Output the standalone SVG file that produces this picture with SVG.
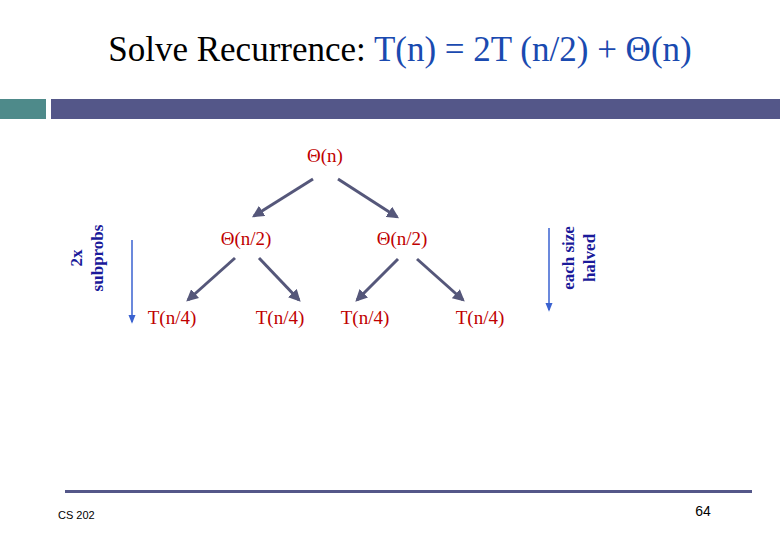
<svg xmlns="http://www.w3.org/2000/svg" width="780" height="540" viewBox="0 0 780 540">
<style>
.t{font-family:"Liberation Serif",serif;fill:#c00000;font-size:19px;text-anchor:middle}
.b{font-family:"Liberation Serif",serif;fill:#1a1a9a;font-size:17px;font-weight:bold;text-anchor:middle}
.e{stroke:#55577a;stroke-width:3;fill:none;marker-end:url(#ah)}
.v{stroke:#3a62d0;stroke-width:1.5;fill:none;marker-end:url(#av)}
</style>
<defs>
<marker id="ah" viewBox="0 0 10 10" refX="8" refY="5" markerWidth="4" markerHeight="4" orient="auto"><path d="M0,0L10,5L0,10z" fill="#55577a"/></marker>
<marker id="av" viewBox="0 0 10 10" refX="8" refY="5" markerWidth="6" markerHeight="6" orient="auto"><path d="M0,1L10,5L0,9z" fill="#3a62d0"/></marker>
</defs>
<rect width="780" height="540" fill="#fff"/>
<text x="400" y="61" font-family="Liberation Serif,serif" font-size="35" text-anchor="middle" fill="#000">Solve Recurrence: <tspan fill="#1a4ab0">T(n) = 2T (n/2) + Θ(n)</tspan></text>
<rect x="0" y="99" width="46" height="20" fill="#4e8a8a"/>
<rect x="51" y="99" width="729" height="20" fill="#545789"/>
<g id="root"><text class="t" x="325" y="162">Θ(n)</text></g>
<g id="m1"><text class="t" x="246" y="245">Θ(n/2)</text></g>
<g id="m2"><text class="t" x="402" y="245">Θ(n/2)</text></g>
<g id="l1"><text class="t" x="172" y="324">T(n/4)</text></g>
<g id="l2"><text class="t" x="280" y="324">T(n/4)</text></g>
<g id="l3"><text class="t" x="365" y="324">T(n/4)</text></g>
<g id="l4"><text class="t" x="480" y="324">T(n/4)</text></g>
<g id="connectors">
<line class="e" x1="313" y1="179" x2="254" y2="216"/>
<line class="e" x1="338" y1="179" x2="397" y2="217"/>
<line class="e" x1="235" y1="258" x2="188" y2="300"/>
<line class="e" x1="259" y1="258" x2="299" y2="300"/>
<line class="e" x1="398" y1="259" x2="357" y2="300"/>
<line class="e" x1="417" y1="259" x2="463" y2="300"/>
<line class="v" x1="132" y1="240" x2="132" y2="322"/>
<line class="v" x1="549" y1="228" x2="549" y2="310"/>
</g>
<g id="label-left" transform="translate(88,258) rotate(-90)"><text class="b" x="0" y="-6">2x</text><text class="b" x="0" y="15">subprobs</text></g>
<g id="label-right" transform="translate(580,258) rotate(-90)"><text class="b" x="0" y="-6">each size</text><text class="b" x="0" y="15">halved</text></g>
<rect x="65" y="490" width="687" height="3" fill="#545789"/>
<text x="58" y="519" font-family="Liberation Sans,sans-serif" font-size="11" fill="#000">CS 202</text>
<text x="703" y="516" font-family="Liberation Sans,sans-serif" font-size="14" text-anchor="middle" fill="#000">64</text>
</svg>
